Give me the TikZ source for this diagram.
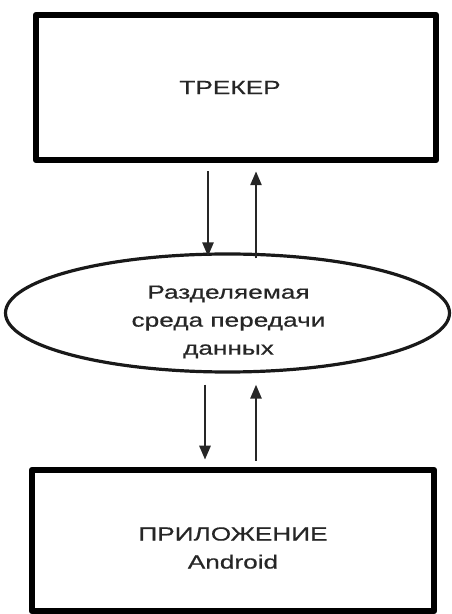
\documentclass[tikz,border=0pt]{standalone}
\usepackage{fontspec}
\newfontfamily\diagfont[FakeStretch=1.38, FakeBold=0.6]{Liberation Sans}
\usetikzlibrary{calc, arrows.meta, shapes.geometric}

\begin{document}
\begin{tikzpicture}[x=1pt, y=1pt,
    block/.style={draw=black, line width=6.5pt, line join=round, inner sep=0pt},
    medium/.style={ellipse, draw=black!90, line width=3.2pt, inner sep=0pt, minimum width=444pt, minimum height=118pt},
    caption/.style={align=center, text=black!85, font=\diagfont\fontsize{19}{28}\selectfont},
    flow/.style={draw=black!85, line width=2.6pt, -{Triangle[length=14pt, width=11pt]}}]
    \useasboundingbox (0,0) rectangle (452,614);
    \node[block, minimum width=400pt, minimum height=145pt] (tracker) at (236,526.5) {};
    \node[medium] (share) at (227.5,301) {};
    \node[block, minimum width=402pt, minimum height=141pt] (app) at (233,73.5) {};
    \node[caption] (trackertext) at ([xshift=-6pt]tracker.center) {ТРЕКЕР};
    \node[caption] (sharetext) at ([xshift=1pt,yshift=-9pt]share.center) {Разделяемая\\среда передачи\\данных};
    \node[caption] (apptext) at ([yshift=-7.5pt]app.center) {ПРИЛОЖЕНИЕ\\Android};
    % tracker <-> medium
    \draw[flow] ($(tracker.south)+(-28,-8)$) -- ($(share.north)+(-19.5,-4)$);
    \draw[flow] ($(share.north)+(28.5,-6)$) -- ($(tracker.south)+(20,-8)$);
    % medium <-> application
    \draw[flow] ($(share.south)+(-22.5,-11)$) -- ($(app.north)+(-28,7)$);
    \draw[flow] ($(app.north)+(23,6)$) -- ($(share.south)+(28.5,-11)$);
\end{tikzpicture}
\end{document}
